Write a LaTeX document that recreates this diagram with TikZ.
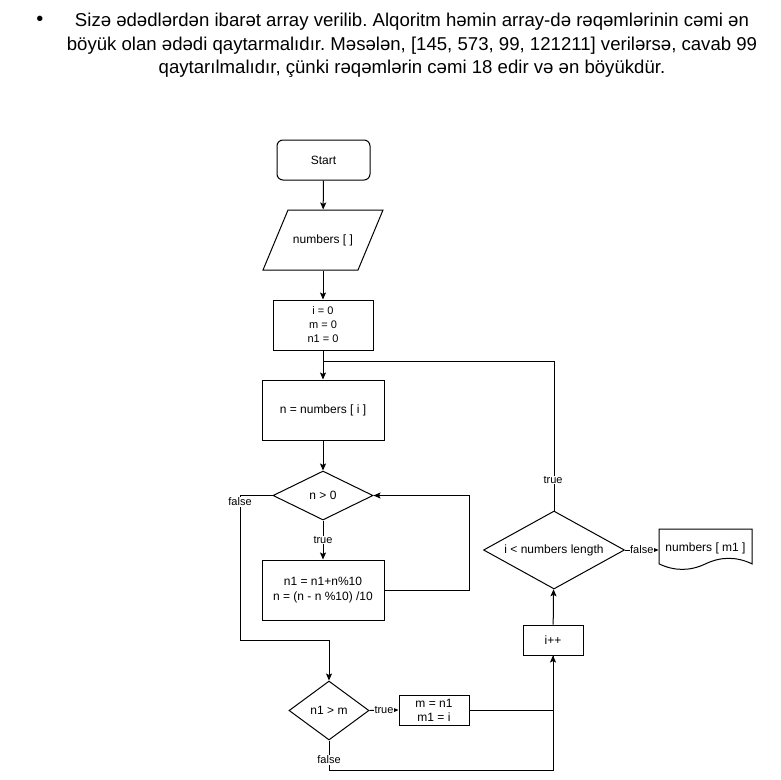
\documentclass[tikz,border=0pt]{standalone}
\usepackage{fontspec}
\setmainfont{Liberation Sans}
\usetikzlibrary{shapes.geometric,arrows.meta,calc}
\frenchspacing

\begin{document}
\begin{tikzpicture}[x=1pt,y=-1pt,line width=1pt,
  every node/.style={inner sep=0pt,font=\fontsize{12}{14}\selectfont},
  procbox/.style={draw,rectangle,minimum width=#1},
  decision/.style={draw,diamond},
  flow/.style={-{Stealth[length=7pt,width=6pt,inset=1.5pt]}},
  edgelabel/.style={fill=white,inner sep=0.5pt,font=\fontsize{11}{13}\selectfont},
  lines/.style={align=center,font=\fontsize{11}{14}\selectfont}]

\useasboundingbox (0,0) rectangle (781,779);

% task statement
\node[font=\fontsize{20}{20}\selectfont] (bullet) at (40,21) {•};
\node[align=center,font=\fontsize{18.6}{23.5}\selectfont] (task) at (412,45.5)
  {Sizə ədədlərdən ibarət array verilib. Alqoritm həmin array-də rəqəmlərinin cəmi ən\\
   böyük olan ədədi qaytarmalıdır. Məsələn, [145, 573, 99, 121211] verilərsə, cavab 99\\
   qaytarılmalıdır, çünki rəqəmlərin cəmi 18 edir və ən böyükdür.};

% start
\node[draw,rounded corners=6pt,minimum width=93pt,minimum height=40pt] (start) at (323.5,160) {Start};

% input parallelogram
\node[minimum width=120pt,minimum height=60pt] (input) at (323,240) {numbers [ ]};
\draw ($(input.center)+(-35,-30)$) -- ($(input.center)+(60,-30)$)
   -- ($(input.center)+(35,30)$) -- ($(input.center)+(-60,30)$) -- cycle;

% initialisation
\node[procbox=100pt,minimum height=50pt,lines] (init) at (323,325) {i = 0\\m = 0\\n1 = 0};

% current element
\node[procbox=122pt,minimum height=60pt] (nbox) at (323,410) {n = numbers [ i ]};

% digit loop
\node[decision,minimum width=100pt,minimum height=49pt,shape aspect=2] (d1) at (323,495.5) {n > 0};
\node[procbox=122pt,minimum height=60pt,lines,font=\fontsize{12}{15}\selectfont] (body) at (323,590)
  {n1 = n1+n\%10\\n = (n - n \%10) /10};

% comparison
\node[decision,minimum width=80pt,minimum height=59pt,shape aspect=1.35] (d2) at (329,710.5) {n1 > m};
\node[procbox=70pt,minimum height=30pt,lines,font=\fontsize{12}{14}\selectfont] (upd) at (434,710) {m = n1\\m1 = i};

% index step and loop test
\node[procbox=60pt,minimum height=30pt] (inc) at (553,640) {i++};
\node[decision,minimum width=141pt,minimum height=78pt,shape aspect=1.8] (d3) at (554,550) {i < numbers length};

% output document
\node[minimum width=93pt,minimum height=41pt] (out) at (705.5,549.5) {\raisebox{4pt}{numbers [ m1 ]}};
\draw ($(out.center)+(-46.5,-20.5)$) -- ($(out.center)+(46.5,-20.5)$)
  -- ($(out.center)+(46.5,14.35)$)
  .. controls ($(out.center)+(31,6.98)$) and ($(out.center)+(15.5,6.98)$) .. ($(out.center)+(0,14.35)$)
  .. controls ($(out.center)+(-15.5,21.72)$) and ($(out.center)+(-31,21.72)$) .. ($(out.center)+(-46.5,14.35)$)
  -- cycle;

% junction points
\coordinate (j1) at (323,361);
\coordinate (j2) at (240,495.5);
\coordinate (j3) at (240,640);
\coordinate (j4) at (329,770);
\coordinate (j5) at (469,590);

% connectors
\draw[flow] (start) -- (input);
\draw[flow] (input) -- (init);
\draw[flow] (init) -- (nbox);
\draw (d3.north) |- (j1);
\node[edgelabel] (tl1) at (553,480) {true};
\draw[flow] (nbox) -- (d1);
\draw[flow] (d1) -- node[edgelabel,pos=0.5] (tl2) {true} (body);
\draw[flow] (body.east) -- (j5) |- (d1.east);
\draw[flow] (d1.west) -- (j2) -- (j3) -| (d2.north);
\node[edgelabel] (fl1) at (240,502) {false};
\draw[flow] (d2.east) -- node[edgelabel] (tl3) {true} (upd.west);
\draw (upd.east) -| (inc.south);
\draw[flow] (d2.south) -- (j4) -| (inc.south);
\node[edgelabel] (fl2) at (329,760) {false};
\draw[flow] (inc) -- (d3);
\draw[flow] (d3.east) -- node[edgelabel] (fl3) {false} (d3.east -| out.west);
\end{tikzpicture}
\end{document}
